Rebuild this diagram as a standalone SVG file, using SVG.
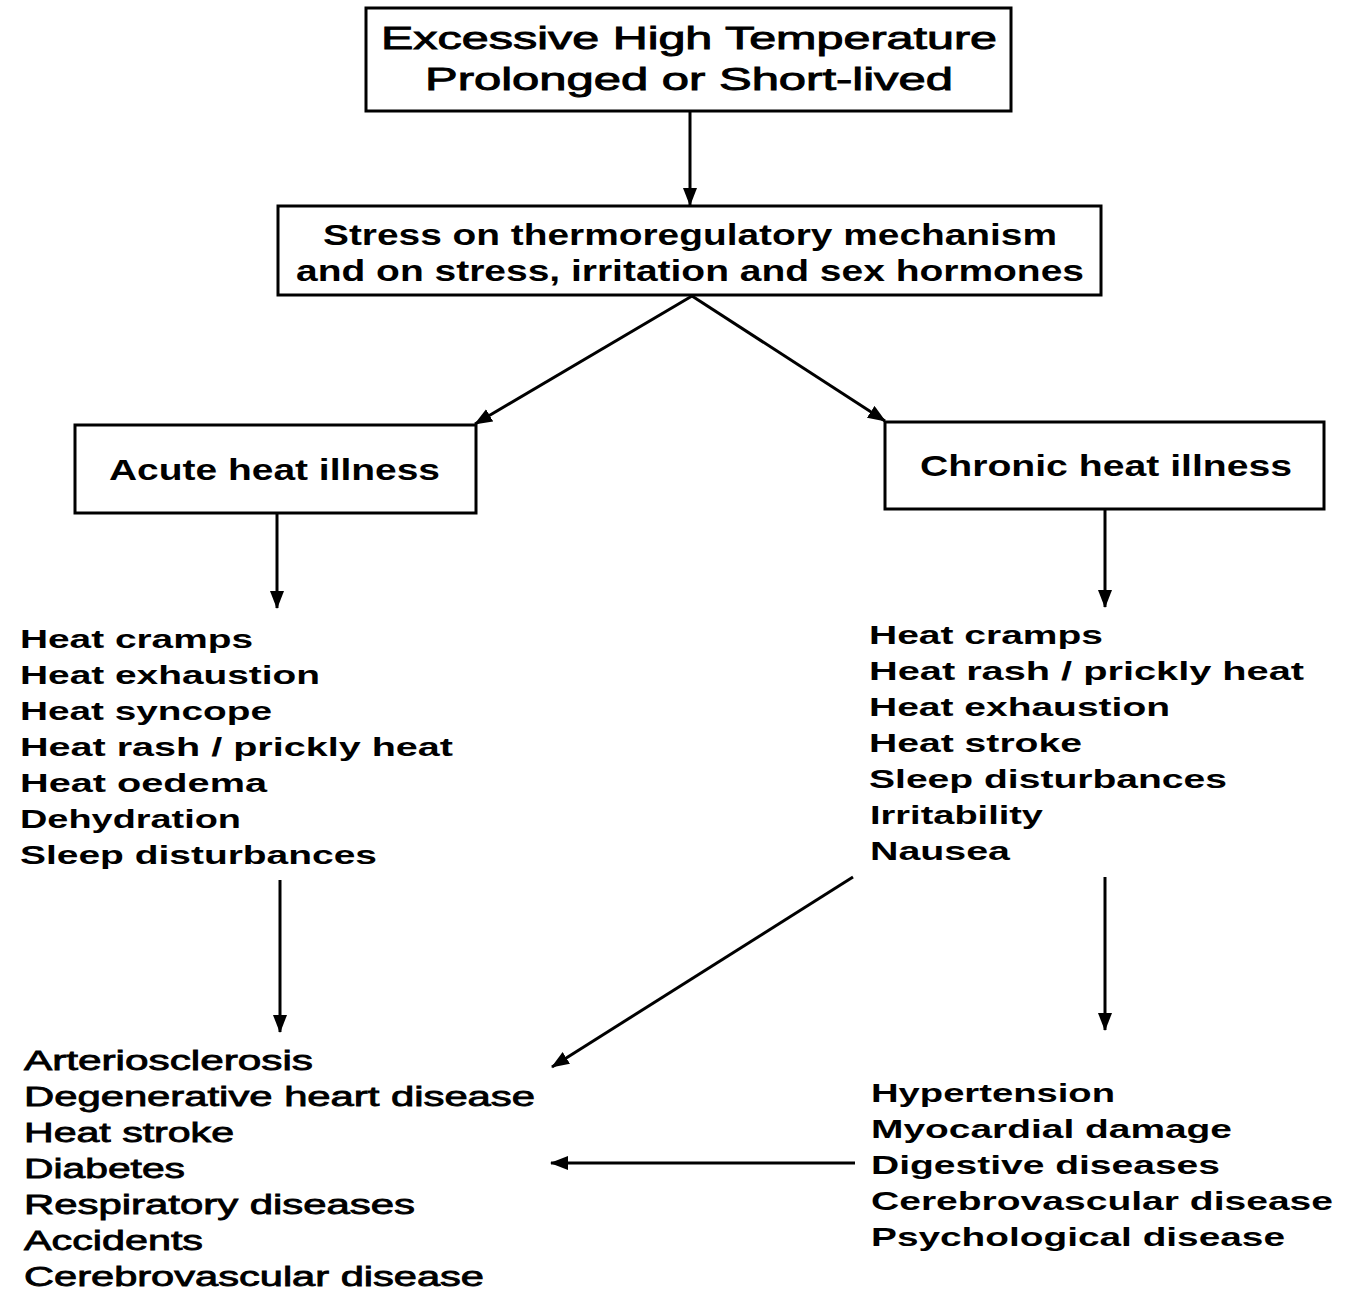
<svg xmlns="http://www.w3.org/2000/svg" width="1347" height="1292" viewBox="0 0 1347 1292">
<defs>
<marker id="ah" markerUnits="userSpaceOnUse" markerWidth="20" markerHeight="16" refX="17" refY="7" orient="auto">
<path d="M0,0 L18,7 L0,14 z" fill="#000"/>
</marker>
<style>
.box{fill:#fff;stroke:#000;stroke-width:3}
.t{font-family:"Liberation Sans",Arial,Helvetica,sans-serif;fill:#000}
.reg{font-weight:normal;stroke:#000;stroke-width:0.9}
.b{font-weight:bold}
.lr{font-family:"Liberation Sans",Arial,Helvetica,sans-serif;font-weight:normal;font-size:27px;fill:#000;stroke:#000;stroke-width:0.8}
.lb{font-family:"Liberation Sans",Arial,Helvetica,sans-serif;font-weight:bold;font-size:26px;fill:#000}
.c{fill:none;stroke:#000;stroke-width:3;marker-end:url(#ah)}
</style>
</defs>
<rect width="1347" height="1292" fill="#fff"/>
<g id="connectors">
<line class="c" x1="690" y1="112" x2="690" y2="205"/>
<line class="c" x1="692" y1="296" x2="475" y2="424"/>
<line class="c" x1="692" y1="296" x2="885" y2="421"/>
<line class="c" x1="277" y1="513" x2="277" y2="608"/>
<line class="c" x1="1105" y1="509" x2="1105" y2="607"/>
<line class="c" x1="280" y1="880" x2="280" y2="1032"/>
<line class="c" x1="1105" y1="877" x2="1105" y2="1030"/>
<line class="c" x1="853" y1="877" x2="552" y2="1067"/>
<line class="c" x1="855" y1="1163" x2="551" y2="1163"/>
</g>
<g id="temperature">
<rect class="box" x="366" y="8" width="645" height="103"/>
<text class="t reg" font-size="32" x="381" y="49" textLength="616" lengthAdjust="spacingAndGlyphs">Excessive High Temperature</text>
<text class="t reg" font-size="32" x="425" y="90" textLength="528" lengthAdjust="spacingAndGlyphs">Prolonged or Short-lived</text>
</g>
<g id="stress">
<rect class="box" x="278" y="206" width="823" height="89"/>
<text class="t b" font-size="29" x="323" y="245" textLength="734" lengthAdjust="spacingAndGlyphs">Stress on thermoregulatory mechanism</text>
<text class="t b" font-size="29" x="296" y="281" textLength="788" lengthAdjust="spacingAndGlyphs">and on stress, irritation and sex hormones</text>
</g>
<g id="acute">
<rect class="box" x="75" y="425" width="401" height="88"/>
<text class="t b" font-size="30" x="109" y="480" textLength="331" lengthAdjust="spacingAndGlyphs">Acute heat illness</text>
</g>
<g id="chronic">
<rect class="box" x="885" y="422" width="439" height="87"/>
<text class="t b" font-size="30" x="920" y="476" textLength="372" lengthAdjust="spacingAndGlyphs">Chronic heat illness</text>
</g>
<g id="acute-symptoms">
<text class="lb" x="20" y="648" textLength="233" lengthAdjust="spacingAndGlyphs">Heat cramps</text>
<text class="lb" x="20" y="684" textLength="300" lengthAdjust="spacingAndGlyphs">Heat exhaustion</text>
<text class="lb" x="20" y="720" textLength="252" lengthAdjust="spacingAndGlyphs">Heat syncope</text>
<text class="lb" x="20" y="756" textLength="433" lengthAdjust="spacingAndGlyphs">Heat rash / prickly heat</text>
<text class="lb" x="20" y="792" textLength="247" lengthAdjust="spacingAndGlyphs">Heat oedema</text>
<text class="lb" x="20" y="828" textLength="221" lengthAdjust="spacingAndGlyphs">Dehydration</text>
<text class="lb" x="20" y="864" textLength="357" lengthAdjust="spacingAndGlyphs">Sleep disturbances</text>
</g>
<g id="chronic-symptoms">
<text class="lb" x="869" y="644" textLength="234" lengthAdjust="spacingAndGlyphs">Heat cramps</text>
<text class="lb" x="869" y="680" textLength="435" lengthAdjust="spacingAndGlyphs">Heat rash / prickly heat</text>
<text class="lb" x="869" y="716" textLength="301" lengthAdjust="spacingAndGlyphs">Heat exhaustion</text>
<text class="lb" x="869" y="752" textLength="213" lengthAdjust="spacingAndGlyphs">Heat stroke</text>
<text class="lb" x="869" y="788" textLength="358" lengthAdjust="spacingAndGlyphs">Sleep disturbances</text>
<text class="lb" x="870" y="824" textLength="173" lengthAdjust="spacingAndGlyphs">Irritability</text>
<text class="lb" x="870" y="860" textLength="140" lengthAdjust="spacingAndGlyphs">Nausea</text>
</g>
<g id="acute-outcomes">
<text class="lr" x="24" y="1070" textLength="289" lengthAdjust="spacingAndGlyphs">Arteriosclerosis</text>
<text class="lr" x="24" y="1106" textLength="511" lengthAdjust="spacingAndGlyphs">Degenerative heart disease</text>
<text class="lr" x="24" y="1142" textLength="210" lengthAdjust="spacingAndGlyphs">Heat stroke</text>
<text class="lr" x="24" y="1178" textLength="161" lengthAdjust="spacingAndGlyphs">Diabetes</text>
<text class="lr" x="24" y="1214" textLength="391" lengthAdjust="spacingAndGlyphs">Respiratory diseases</text>
<text class="lr" x="24" y="1250" textLength="179" lengthAdjust="spacingAndGlyphs">Accidents</text>
<text class="lr" x="24" y="1286" textLength="460" lengthAdjust="spacingAndGlyphs">Cerebrovascular disease</text>
</g>
<g id="chronic-outcomes">
<text class="lb" x="871" y="1102" textLength="244" lengthAdjust="spacingAndGlyphs">Hypertension</text>
<text class="lb" x="871" y="1138" textLength="361" lengthAdjust="spacingAndGlyphs">Myocardial damage</text>
<text class="lb" x="871" y="1174" textLength="349" lengthAdjust="spacingAndGlyphs">Digestive diseases</text>
<text class="lb" x="871" y="1210" textLength="462" lengthAdjust="spacingAndGlyphs">Cerebrovascular disease</text>
<text class="lb" x="871" y="1246" textLength="414" lengthAdjust="spacingAndGlyphs">Psychological disease</text>
</g>
</svg>
